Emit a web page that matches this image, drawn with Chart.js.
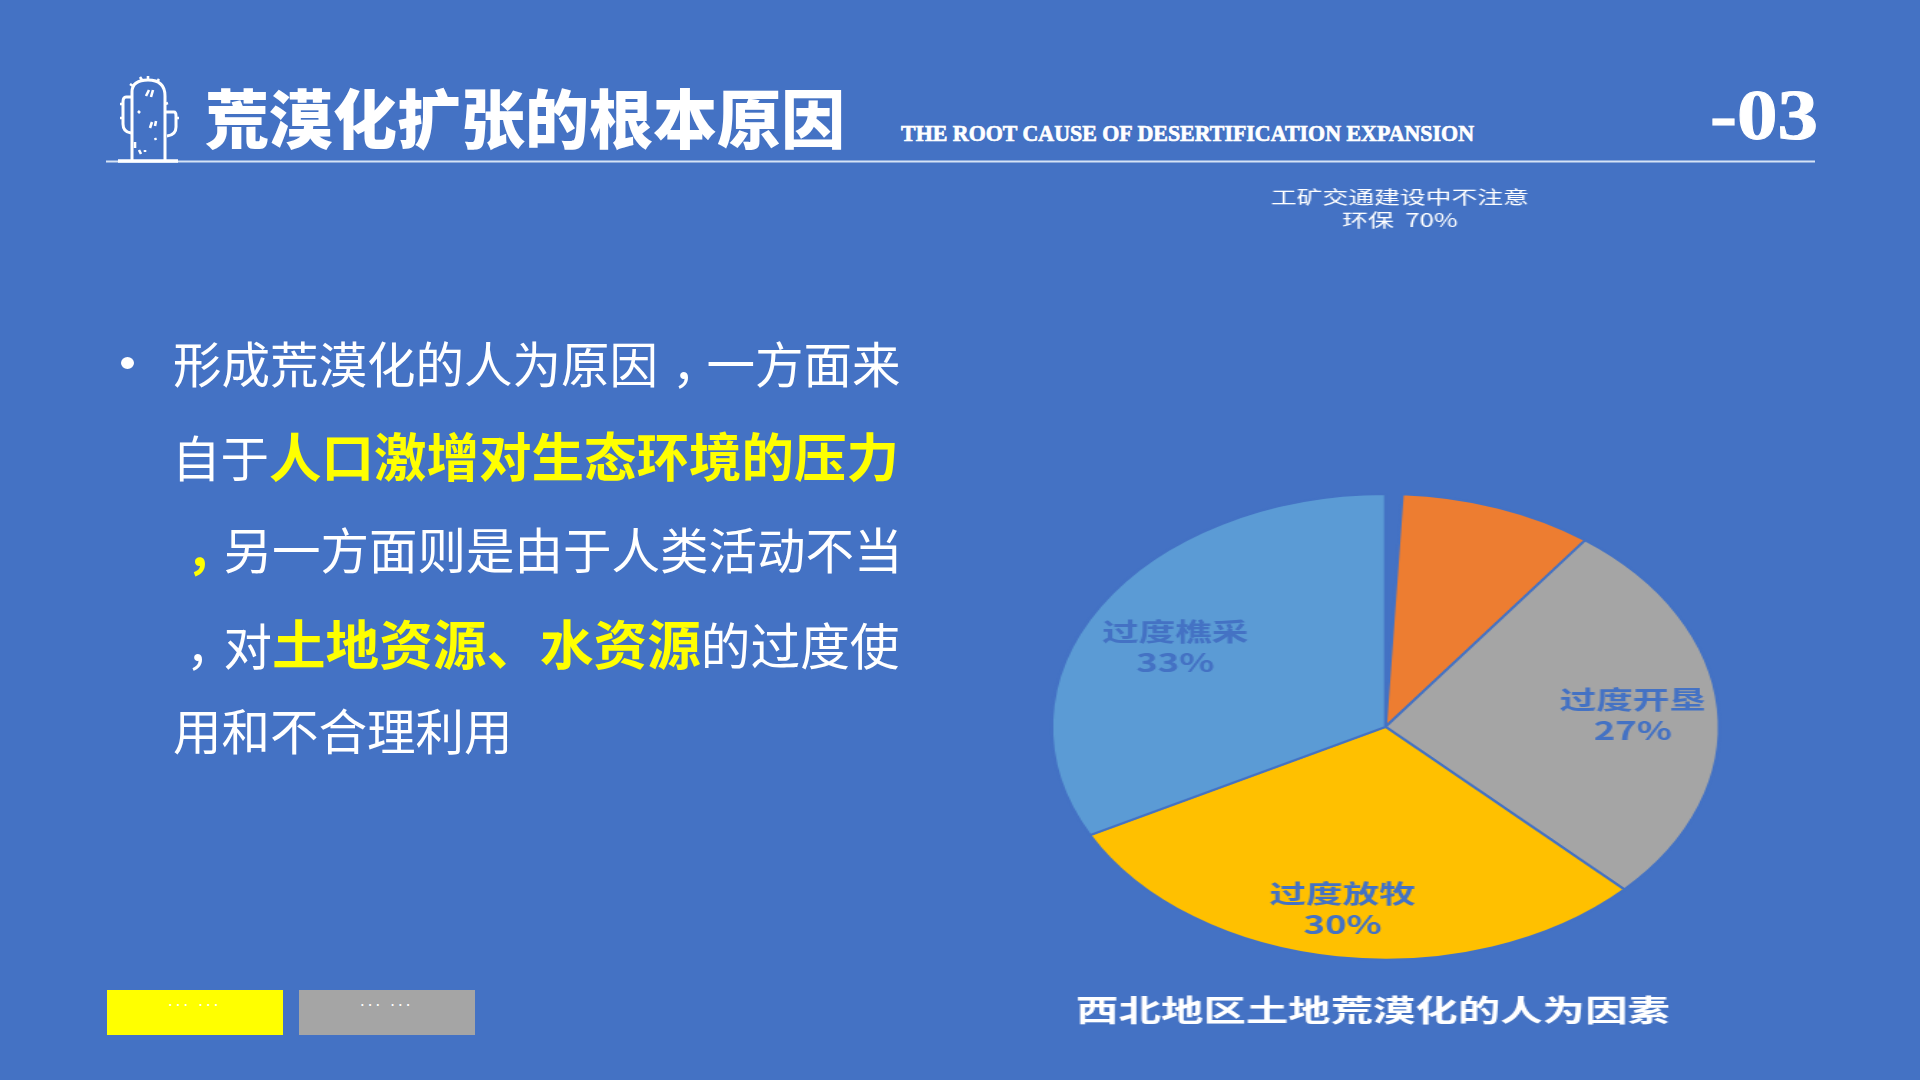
<!DOCTYPE html>
<html lang="zh">
<head>
<meta charset="utf-8">
<title>荒漠化扩张的根本原因</title>
<script src="https://cdn.jsdelivr.net/npm/chart.js@4"></script>
<style>
html,body{margin:0;padding:0;width:1920px;height:1080px;overflow:hidden;background:#4472C4;}
body{position:relative;font-family:"Noto Sans CJK SC","Noto Sans",sans-serif;color:#fff;}
.t{position:absolute;white-space:nowrap;line-height:1;}
.y{color:#FFFF00;font-weight:700;}
.s{position:relative;left:11px;}
#wrap{position:absolute;left:1073px;top:150px;width:600px;height:890px;transform:scaleX(1.4332);transform-origin:50% 50%;}
.btn{position:absolute;top:990px;height:45px;width:176px;text-align:center;font-size:15px;line-height:20px;color:#fff;letter-spacing:3.6px;}
</style>
</head>
<body>
<svg style="position:absolute;left:0;top:0" width="1920" height="200" fill="none" stroke="#fff">
  <path d="M106 161.5H1815" stroke="#D6E3F5" stroke-width="2"/>
  <path d="M118 161H178" stroke-width="3.5"/>
  <path d="M132 160V92Q132 80 148 80Q165 80 165 96V160" stroke-width="3"/>
  <path d="M131 97H126Q123 97 123 102V124Q123 132 131 133" stroke-width="3"/>
  <path d="M166 112H174Q176 112 176 116V127Q176 135 167 136" stroke-width="3"/>
  <path d="M146 96l3-6M151 97l2-7M150 128l2-6M155 126l1-5M138 111l2 2M139 150l2 4M135 142v6M155 138l1 2M148 76v5M140 77l2 3M157 82l2-3M120 104h3M120 118h3M176 118h3M165 104l3-1M133 86l-3-2M145 150v2" stroke-width="2.6"/>
</svg>
<div class="t" style="left:205px;top:83px;font-size:64px;font-weight:900;">荒漠化扩张的根本原因</div>
<svg style="position:absolute;left:895px;top:115px" width="590" height="40">
  <text x="6" y="26" textLength="573" lengthAdjust="spacingAndGlyphs" font-family="'Liberation Serif'" font-weight="700" font-size="24" fill="#fff" stroke="#fff" stroke-width="0.7">THE ROOT CAUSE OF DESERTIFICATION EXPANSION</text>
</svg>
<svg style="position:absolute;left:1700px;top:70px" width="130" height="90">
  <text x="10" y="69" textLength="108" lengthAdjust="spacingAndGlyphs" font-family="'Liberation Serif'" font-weight="700" font-size="72" fill="#fff" stroke="#fff" stroke-width="1">-03</text>
</svg>

<div style="position:absolute;left:121px;top:357px;width:13px;height:12px;border-radius:50%;background:#fff;"></div>
<div class="t" style="left:173px;top:338px;font-size:48.5px;">形成荒漠化的人为原因<span class="s" style="left:14px;">，</span>一方面来</div>
<div class="t" style="left:172px;top:428px;font-size:48.5px;">自于<span class="y" style="font-size:52.5px;">人口激增对生态环境的压力</span></div>
<div class="t" style="left:175px;top:524px;font-size:48.5px;"><span class="y s">，</span>另一方面则是由于人类活动不当</div>
<div class="t" style="left:175px;top:615px;font-size:48.5px;"><span class="s">，</span>对<span class="y" style="font-size:53.6px;">土地资源、水资源</span><span style="font-size:49.7px;">的过度使</span></div>
<div class="t" style="left:173px;top:705px;font-size:48.5px;">用和不合理利用</div>

<div class="btn" style="left:107px;background:#FFFF00;">... ...</div>
<div class="btn" style="left:299px;background:#A5A5A5;">... ...</div>

<div id="wrap"><canvas id="pie" width="600" height="890" style="width:600px;height:890px"></canvas></div>

<script>
const categories = ["工矿交通建设中不注意环保", "过度开垦", "过度放牧", "过度樵采"];
const sliceValues = [9.4, 27.1, 30, 32.7];
const sliceColors = ["#ED7D31", "#A5A5A5", "#FFC000", "#5B9BD5"];
const labelLines = [["工矿交通建设中不注意", "环保  70%"], ["过度开垦", "27%"], ["过度放牧", "30%"], ["过度樵采", "33%"]];
const chartTitle = "西北地区土地荒漠化的人为因素";

const BG = "#4472C4";
const radial = [null, 0.745, 0.79, 0.725];
const nudge = [null, [-0.3, 1.5], [-3.4, 0], [-2.2, 7]];

const sliceLabels = {
  id: "sliceLabels",
  afterLayout(chart) {
    const t = chart.titleBlock;
    t.left -= 8.7;
    t.right -= 8.7;
  },
  afterDatasetsDraw(chart) {
    const ctx = chart.ctx;
    const arcs = chart.getDatasetMeta(0).data;
    ctx.save();
    ctx.textAlign = "center";
    ctx.textBaseline = "middle";
    arcs.forEach((arc, i) => {
      const mid = (arc.startAngle + arc.endAngle) / 2;
      const lines = labelLines[i];
      if (radial[i] === null) {
        ctx.font = '400 18px "Noto Sans CJK SC"';
        ctx.fillStyle = "#FFFFFF";
        lines.forEach((s, k) => ctx.fillText(s, arc.x + 10, arc.y - arc.outerRadius - 297 + k * 23.5));
      } else {
        const r = arc.outerRadius * radial[i];
        const x = arc.x + Math.cos(mid) * r + nudge[i][0];
        const y = arc.y + Math.sin(mid) * r + nudge[i][1];
        ctx.font = '700 25.5px "Noto Sans CJK SC"';
        ctx.fillStyle = BG;
        lines.forEach((s, k) => ctx.fillText(s, x, y + (k - 0.5) * 31));
      }
    });
    ctx.restore();
  }
};

new Chart(document.getElementById("pie"), {
  type: "pie",
  data: {
    labels: categories,
    datasets: [{
      data: sliceValues,
      backgroundColor: sliceColors,
      borderColor: BG,
      borderWidth: 2
    }]
  },
  options: {
    responsive: false,
    animation: false,
    rotation: 2.9,
    circumference: 357.1,
    layout: { padding: { top: 343, bottom: 0, left: 74.7, right: 57.3 } },
    plugins: {
      legend: { display: false },
      tooltip: { enabled: false },
      title: {
        display: true,
        text: chartTitle,
        position: "bottom",
        color: "#FFFFFF",
        font: { family: '"Noto Sans CJK SC"', size: 29.6, weight: "700", lineHeight: 1.2 },
        padding: { top: 31.8, bottom: 12 }
      }
    }
  },
  plugins: [sliceLabels]
});
</script>
</body>
</html>
